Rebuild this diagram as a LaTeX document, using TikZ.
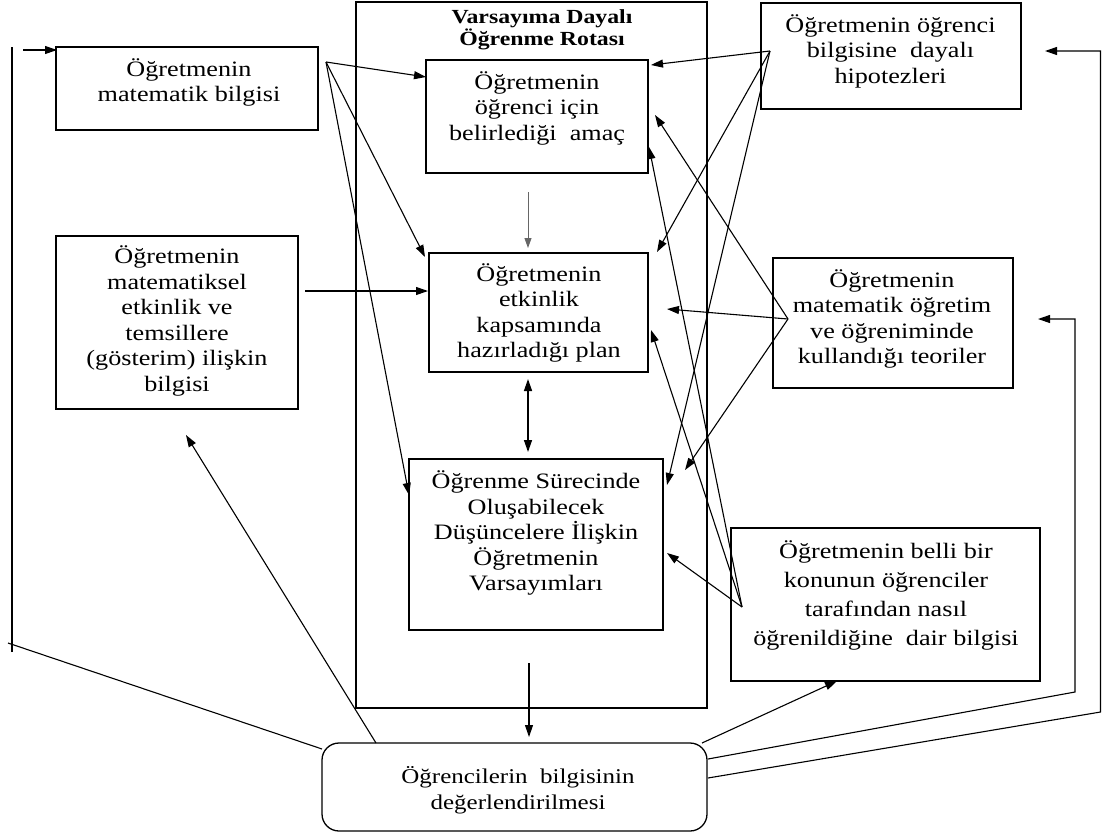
\documentclass[tikz,border=0pt]{standalone}
\usepackage{fontspec}
\setmainfont{Liberation Serif}[FakeStretch=1.19]
\usetikzlibrary{arrows.meta}
\begin{document}
\begin{tikzpicture}[x=1pt,y=-1pt,
  box/.style={draw, line width=1.3pt, inner sep=0pt},
  txt/.style={align=center, inner sep=0pt, font=\fontsize{22}{25.5}\selectfont},
  link/.style={line width=1.1pt},
  arr/.style={link, -{Triangle[length=12pt,width=8pt]}},
  thinarr/.style={line width=0.9pt, draw=black!60, -{Triangle[length=10pt,width=7pt]}},
  dblarr/.style={link, line width=1.4pt, {Triangle[length=12pt,width=8pt]}-{Triangle[length=12pt,width=8pt]}},
]
\useasboundingbox (0,0) rectangle (1102,836);

% --- boxes ---
\node[box, minimum width=351pt, minimum height=706pt] (R) at (531.5,355) {};
\node[box, minimum width=262pt, minimum height=83pt]  (A) at (187,88.5) {};
\node[box, minimum width=222pt, minimum height=113pt] (B) at (537,116.5) {};
\node[box, minimum width=219pt, minimum height=119pt] (C) at (538.5,312.5) {};
\node[box, minimum width=254pt, minimum height=171pt] (D) at (536,544.5) {};
\node[box, minimum width=260pt, minimum height=106pt] (E) at (891,56) {};
\node[box, minimum width=242pt, minimum height=173pt] (F) at (177,322.5) {};
\node[box, minimum width=240pt, minimum height=130pt] (G) at (893,323) {};
\node[box, minimum width=309pt, minimum height=153pt] (H) at (885.5,604.5) {};
\node[box, rounded corners=17pt, minimum width=385pt, minimum height=88pt] (I) at (514.5,787) {};

% --- texts ---
\node[txt, font=\fontsize{20}{19}\selectfont\bfseries] (Rt) at (542,30) {Varsayıma Dayalı\\Öğrenme Rotası};
\node[txt] (At) at (189,82.5) {Öğretmenin\\matematik bilgisi};
\node[txt] (Bt) at (537,108) {Öğretmenin\\öğrenci için\\belirlediği\ \ amaç};
\node[txt] (Ct) at (539,313) {Öğretmenin\\etkinlik\\kapsamında\\hazırladığı plan};
\node[txt] (Dt) at (536,533) {Öğrenme Sürecinde\\Oluşabilecek\\Düşüncelere İlişkin\\Öğretmenin\\Varsayımları};
\node[txt] (Et) at (890.5,51) {Öğretmenin öğrenci\\bilgisine\ \ dayalı\\hipotezleri};
\node[txt] (Ft) at (177,321) {Öğretmenin\\matematiksel\\etkinlik ve\\temsillere\\(gösterim) ilişkin\\bilgisi};
\node[txt] (Gt) at (892,319) {Öğretmenin\\matematik öğretim\\ve öğreniminde\\kullandığı teoriler};
\node[txt, font=\fontsize{22}{29}\selectfont] (Ht) at (886,595) {Öğretmenin belli bir\\konunun öğrenciler\\tarafından nasıl\\öğrenildiğine\ \ dair bilgisi};
\node[txt, font=\fontsize{21}{26}\selectfont] (It) at (518,790) {Öğrencilerin\ \ bilgisinin\\değerlendirilmesi};

% --- connector end points ---
\coordinate (Ao) at (326,62);
\coordinate (tAB) at (426,77);
\coordinate (tAC) at (425,257);
\coordinate (tAD) at (409,495);
\coordinate (Fo) at (305,291);
\coordinate (tFC) at (428,291);
\coordinate (sBC) at (528,192);
\coordinate (tBC) at (528,248);
\coordinate (cC) at (528,379);
\coordinate (cD) at (528,452);
\coordinate (rR) at (529,663);
\coordinate (rI) at (529,737);
\coordinate (Eo) at (770,51);
\coordinate (tEB) at (651,65);
\coordinate (tEC) at (657,252);
\coordinate (tED) at (667,485);
\coordinate (Go) at (788,319);
\coordinate (tGB) at (655,115);
\coordinate (tGC) at (667,309);
\coordinate (tGD) at (685,470);
\coordinate (Ho) at (742,607);
\coordinate (tHB) at (649,147);
\coordinate (tHC) at (651,330);
\coordinate (tHD) at (667,553);
\coordinate (sIH) at (702,743);
\coordinate (tIH) at (837,681);
\coordinate (sIG) at (708,759);
\coordinate (kG1) at (1075,692);
\coordinate (kG2) at (1075,319);
\coordinate (tIG) at (1038,319);
\coordinate (sIE) at (708,778);
\coordinate (kE1) at (1100.5,712);
\coordinate (kE2) at (1100.5,51);
\coordinate (tIE) at (1045,51);
\coordinate (sIF) at (376,743);
\coordinate (tIF) at (186,435);
\coordinate (sIL) at (322,749);
\coordinate (kL1) at (8,643);
\coordinate (kL2) at (12,652);
\coordinate (kL3) at (12,47);
\coordinate (sLA) at (23,50);
\coordinate (tLA) at (57,50);

% --- connectors ---
\draw[arr] (Ao) -- (tAB);
\draw[arr] (Ao) -- (tAC);
\draw[arr] (Ao) -- (tAD);
\draw[arr] (Fo) -- (tFC);
\draw[thinarr] (sBC) -- (tBC);
\draw[dblarr] (cC) -- (cD);
\draw[arr] (rR) -- (rI);
\draw[arr] (Eo) -- (tEB);
\draw[arr] (Eo) -- (tEC);
\draw[arr] (Eo) -- (tED);
\draw[arr] (Go) -- (tGB);
\draw[arr] (Go) -- (tGC);
\draw[arr] (Go) -- (tGD);
\draw[arr] (Ho) -- (tHB);
\draw[arr] (Ho) -- (tHC);
\draw[arr] (Ho) -- (tHD);
\draw[arr] (sIH) -- (tIH);
\draw[arr] (sIG) -- (kG1) -- (kG2) -- (tIG);
\draw[arr] (sIE) -- (kE1) -- (kE2) -- (tIE);
\draw[arr] (sIF) -- (tIF);
\draw[link] (sIL) -- (kL1);
\draw[link] (kL2) -- (kL3);
\draw[arr] (sLA) -- (tLA);
\end{tikzpicture}
\end{document}
